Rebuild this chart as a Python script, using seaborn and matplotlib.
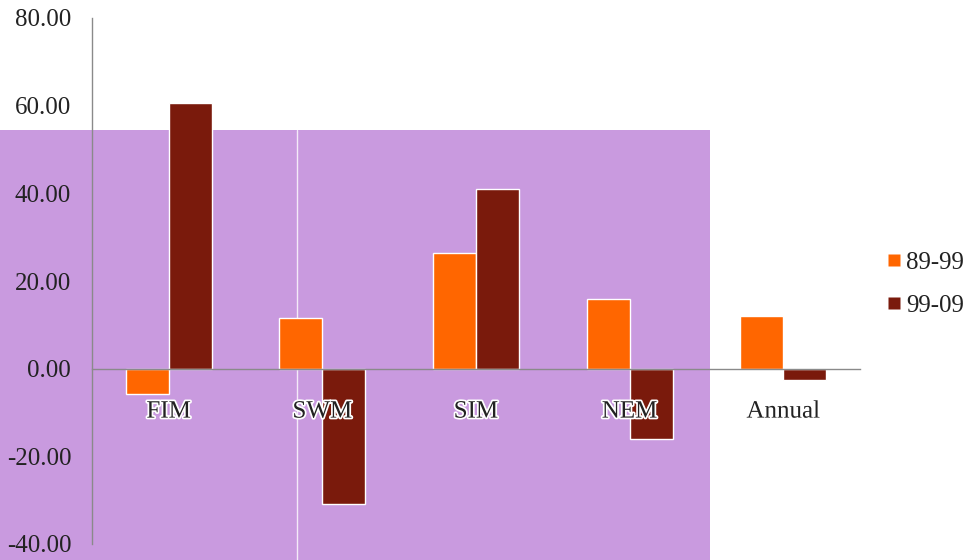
import matplotlib
matplotlib.use("Agg")
import matplotlib.pyplot as plt
import matplotlib.patheffects as pe
from matplotlib.patches import Rectangle
from matplotlib.lines import Line2D
import seaborn as sns
import pandas as pd

# Seasonal change (%) for two decades
seasons = ["FIM", "SWM", "SIM", "NEM", "Annual"]
periods = ["89-99", "99-09"]
change_89_99 = [-5.8, 11.5, 26.3, 16.0, 12.1]
change_99_09 = [60.5, -30.8, 41.0, -16.0, -2.5]
y_ticks = [-40, -20, 0, 20, 40, 60, 80]

colors = {"89-99": "#FF6600", "99-09": "#7A1A0C"}
panel_color = "#C99ADF"
axis_color = "#8A8A8A"
text_color = "#222222"
font = ["Liberation Serif", "DejaVu Serif"]
fs = 18

df = pd.DataFrame({
    "season": seasons * 2,
    "period": [periods[0]] * len(seasons) + [periods[1]] * len(seasons),
    "change": change_89_99 + change_99_09,
})

sns.set_style("white")
plt.rcParams["font.family"] = font

fig = plt.figure(figsize=(9.8, 5.6), dpi=100)
fig.patch.set_facecolor("white")

# Shaded panel behind the left part of the plot, in its own background axes
bg = fig.add_axes([0, 0, 1, 1], zorder=0)
bg.set_xlim(0, 980)
bg.set_ylim(560, 0)
bg.axis("off")
bg.add_patch(Rectangle((0, 130), 710, 430, facecolor=panel_color, edgecolor="none"))
bg.plot([297, 297], [130, 560], color="white", linewidth=1.0, alpha=0.8)

ax = fig.add_axes([92 / 980, 16 / 560, 768 / 980, 526 / 560], zorder=1)
ax.patch.set_alpha(0)

sns.barplot(data=df, x="season", y="change", hue="period", order=seasons,
            hue_order=periods, palette=colors, width=0.56, saturation=1, ax=ax,
            edgecolor="white", linewidth=1.0, legend=False)
ax.set_axisbelow(False)

ax.set_xlim(-0.5, len(seasons) - 0.5)
ax.set_ylim(-40, 80)
ax.set_yticks(y_ticks)
ax.set_yticklabels([f"{v:.2f}" for v in y_ticks], fontsize=fs, color=text_color)
ax.set_xlabel("")
ax.set_ylabel("")

for side in ["top", "right"]:
    ax.spines[side].set_visible(False)
ax.spines["left"].set_color(axis_color)
ax.spines["left"].set_linewidth(1.0)
ax.spines["bottom"].set_position(("data", 0))
ax.spines["bottom"].set_color(axis_color)
ax.spines["bottom"].set_linewidth(1.0)

ax.tick_params(axis="y", which="major", direction="out", length=4,
               color=axis_color, pad=11)
ax.set_xticks(range(len(seasons)))
ax.set_xticks([i - 0.5 for i in range(len(seasons) + 1)], minor=True)
ax.tick_params(axis="x", which="major", length=0, pad=23)
ax.tick_params(axis="x", which="minor", direction="out", length=5, color=axis_color)
ax.set_xticklabels(seasons, fontsize=fs, color=text_color)
for lbl in ax.get_xticklabels():
    lbl.set_path_effects([pe.withStroke(linewidth=2.5, foreground="white")])

handles = [Line2D([0], [0], marker="s", linestyle="none", markersize=8,
                  markerfacecolor=colors[p], markeredgecolor="none") for p in periods]
fig.legend(handles, periods, loc="center left", bbox_to_anchor=(886 / 980, 1 - 284 / 560),
           frameon=False, fontsize=fs, handletextpad=0.2, labelspacing=0.8,
           handlelength=0.6, borderaxespad=0, borderpad=0, labelcolor=text_color)

fig.savefig("out.png", dpi=100)
